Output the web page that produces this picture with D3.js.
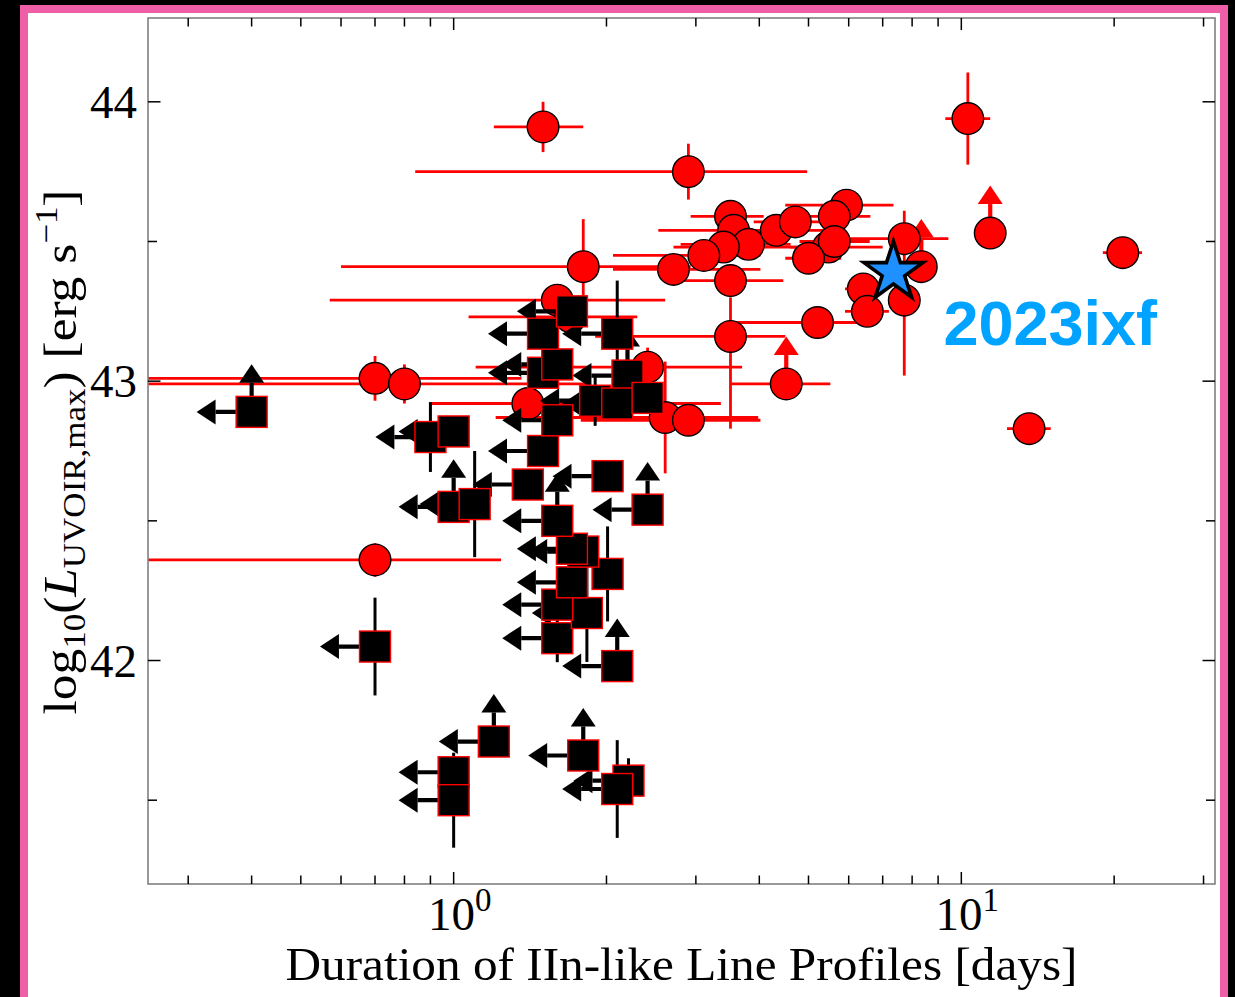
<!DOCTYPE html>
<html>
<head>
<meta charset="utf-8">
<script src="https://cdn.jsdelivr.net/npm/d3@7/dist/d3.min.js"></script>
<style>
  html, body { margin: 0; padding: 0; background: #000; }
  svg { display: block; }
</style>
</head>
<body>
<svg id="chart" width="1235" height="997"></svg>
<script>
// ---- Red circles: Type IIn-like sample (duration in days, log10 L) ----
const circX    = [1.50, 2.90, 10.3, 20.8, 13.6, 11.4, 0.70, 0.80, 0.70, 1.80, 2.71, 3.51, 3.56, 3.81, 3.40, 3.11, 3.51, 3.51, 4.32, 4.71, 5.94, 5.62, 5.47, 5.62, 5.00, 5.21, 4.52, 7.72, 8.34, 6.41, 6.53, 7.72, 2.41, 2.61, 2.90, 1.40, 1.60, 1.70];
const circY    = [43.91, 43.75, 43.94, 43.46, 42.83, 43.53, 43.01, 42.99, 42.36, 43.41, 43.40, 43.59, 43.54, 43.49, 43.48, 43.45, 43.36, 43.16, 43.54, 43.57, 43.63, 43.59, 43.48, 43.50, 43.44, 43.21, 42.99, 43.51, 43.41, 43.33, 43.25, 43.29, 43.05, 42.87, 42.86, 42.92, 43.29, 43.23];
const circXLo  = [1.20, 0.84, 9.30, 19.0, 12.3, 11.2, 0.10, 0.10, 0.10, 0.60, 2.06, 2.93, 2.53, 2.80, 2.71, 2.06, 2.71, 1.90, 3.67, 3.90, 4.50, 4.21, 4.60, 4.80, 4.50, 3.51, 3.51, 5.97, 8.00, 5.90, 5.90, 7.20, 1.105, 1.21, 1.78, 0.90, 0.57, 1.07];
const circXHi  = [1.80, 4.97, 11.4, 22.7, 15.0, 11.6, 1.36, 1.86, 1.24, 2.93, 4.02, 4.08, 4.61, 4.61, 4.82, 4.02, 4.46, 4.50, 5.52, 5.70, 7.35, 6.62, 7.00, 6.60, 5.80, 6.42, 5.52, 9.43, 8.80, 7.00, 7.20, 8.30, 3.70, 3.98, 4.02, 3.36, 2.61, 2.30];
const circYUp  = [0.09, 0.10, 0.165, 0.03, 0.04, 0.02, 0.08, 0.07, 0.06, 0.17, 0.03, 0.03, 0.04, 0.03, 0.03, 0.03, 0.03, 0.14, 0.03, 0.03, 0.03, 0.03, 0.03, 0.03, 0.03, 0.03, 0.03, 0.10, 0.03, 0.03, 0.03, 0.10, 0.07, 0.20, 0.03, 0.05, 0.05, 0.05];
const circYDn  = [0.09, 0.10, 0.165, 0.03, 0.04, 0.02, 0.08, 0.07, 0.06, 0.17, 0.03, 0.03, 0.04, 0.03, 0.03, 0.03, 0.03, 0.33, 0.03, 0.03, 0.03, 0.03, 0.03, 0.03, 0.03, 0.03, 0.03, 0.10, 0.03, 0.03, 0.03, 0.27, 0.07, 0.20, 0.03, 0.05, 0.05, 0.05];
const circLowerLim = [0,0,0,0,0,1,0,0,0,0,0,0,0,0,0,0,0,0,0,0,0,0,0,0,0,0,1,0,1,0,0,0,0,0,0,0,0,0];

// ---- Black squares: sample with upper limits on duration ----
const sqX     = [0.40, 0.90, 1.00, 1.00, 1.10, 0.70, 1.00, 1.00, 1.20, 1.80, 2.21, 2.10, 2.10, 1.60, 1.83, 1.60, 1.71, 2.01, 1.80, 1.71, 1.60, 1.40, 2.01, 2.41, 1.50, 1.60, 1.50, 1.60, 1.50, 1.71, 2.10, 2.20, 1.90, 2.10, 2.41];
const sqY     = [42.89, 42.80, 42.82, 42.55, 42.56, 42.05, 41.60, 41.50, 41.71, 41.66, 41.57, 41.54, 41.98, 42.08, 42.17, 42.20, 42.28, 42.31, 42.39, 42.40, 42.50, 42.63, 42.66, 42.54, 42.75, 42.86, 43.03, 43.06, 43.17, 43.25, 43.17, 43.02, 42.93, 42.92, 42.94];
const sqYErr  = [0, 0.125, 0, 0, 0.19, 0.175, 0, 0.17, 0, 0, 0.08, 0.175, 0, 0.086, 0.175, 0, 0, 0.17, 0, 0, 0, 0, 0.03, 0, 0, 0, 0, 0, 0, 0, 0.19, 0, 0.09, 0, 0];
const sqXUpper = [1,1,1,1,1,1,1,1,1,1,1,1,1,1,1,1,1,0,1,1,1,1,1,1,1,1,1,1,1,1,1,1,1,1,1];
const sqYLower = [1,0,0,1,0,0,0,0,1,1,0,0,1,0,0,0,0,0,0,0,1,0,0,1,0,0,0,0,0,0,0,1,0,0,0];

// ---- SN 2023ixf ----
const ixfX = [7.35];
const ixfY = [43.39];
const ixfName = ["2023ixf"];

// ---- Axes ----
const xDomain = [0.25, 31.6];
const yDomain = [41.2, 44.3];
const xMajorTicks = [1, 10];
const xMajorExp = ["0", "1"];
const xMinorTicks = [0.3, 0.4, 0.5, 0.6, 0.7, 0.8, 0.9, 2, 3, 4, 5, 6, 7, 8, 9, 20, 30];
const yMajorTicks = [42, 43, 44];
const yMinorTicks = [41.5, 42.5, 43.5];

// limit-arrow lengths in data units (dex in x, log L in y)
const xLimitDex = 0.071;
const yLimitLen = 0.104;

(function draw() {
  const svg = d3.select("#chart");
  const W = 1235, H = 997;
  const pL = 148, pR = 1215, pT = 18, pB = 884;

  // page frame
  svg.append("rect").attr("x", 0).attr("y", 0).attr("width", W).attr("height", H).attr("fill", "#000");
  svg.append("rect").attr("x", 20).attr("y", 5).attr("width", 1208).attr("height", H + 20).attr("fill", "#ee5fa7");
  svg.append("rect").attr("x", 28).attr("y", 13).attr("width", 1192).attr("height", H + 20).attr("fill", "#fff");

  const x = d3.scaleLog().domain(xDomain).range([pL, pR]);
  const y = d3.scaleLinear().domain(yDomain).range([pB, pT]);

  svg.append("defs").append("clipPath").attr("id", "plotclip")
    .append("rect").attr("x", pL).attr("y", pT).attr("width", pR - pL).attr("height", pB - pT);

  const plot = svg.append("g").attr("clip-path", "url(#plotclip)");

  function arrowLeft(g, cx, cy, color) {
    const xe = x(cx * Math.pow(10, -xLimitDex));
    const yc = y(cy);
    g.append("line").attr("x1", x(cx)).attr("x2", xe).attr("y1", yc).attr("y2", yc)
      .attr("stroke", color).attr("stroke-width", 4.2);
    g.append("path").attr("d", `M${xe},${yc - 12.5}L${xe},${yc + 12.5}L${xe - 19},${yc}Z`).attr("fill", color);
  }
  function arrowUp(g, cx, cy, color) {
    const ye = y(cy + yLimitLen);
    const xc = x(cx);
    g.append("line").attr("x1", xc).attr("x2", xc).attr("y1", y(cy)).attr("y2", ye)
      .attr("stroke", color).attr("stroke-width", 4.2);
    g.append("path").attr("d", `M${xc - 12.5},${ye}L${xc + 12.5},${ye}L${xc},${ye - 18.5}Z`).attr("fill", color);
  }

  // red circles: error bars, arrows, markers
  const gRedErr = plot.append("g");
  circX.forEach((cx, i) => {
    gRedErr.append("line").attr("x1", x(circXLo[i])).attr("x2", x(circXHi[i]))
      .attr("y1", y(circY[i])).attr("y2", y(circY[i])).attr("stroke", "#ff0000").attr("stroke-width", 2.8);
    gRedErr.append("line").attr("x1", x(cx)).attr("x2", x(cx))
      .attr("y1", y(circY[i] + circYUp[i])).attr("y2", y(circY[i] - circYDn[i]))
      .attr("stroke", "#ff0000").attr("stroke-width", 2.8);
    if (circLowerLim[i]) arrowUp(gRedErr, cx, circY[i], "#ff0000");
  });
  plot.append("g").selectAll("circle").data(circX).join("circle")
    .attr("cx", d => x(d)).attr("cy", (d, i) => y(circY[i])).attr("r", 15.8)
    .attr("fill", "#ff0000").attr("stroke", "#000").attr("stroke-width", 1.4);

  // black squares: error bars, arrows, markers
  const gBlkErr = plot.append("g");
  sqX.forEach((sx, i) => {
    if (sqYErr[i] > 0) {
      gBlkErr.append("line").attr("x1", x(sx)).attr("x2", x(sx))
        .attr("y1", y(sqY[i] + sqYErr[i])).attr("y2", y(sqY[i] - sqYErr[i]))
        .attr("stroke", "#000").attr("stroke-width", 3);
    }
    if (sqXUpper[i]) arrowLeft(gBlkErr, sx, sqY[i], "#000");
    if (sqYLower[i]) arrowUp(gBlkErr, sx, sqY[i], "#000");
  });
  const half = 15.5;
  plot.append("g").selectAll("rect").data(sqX).join("rect")
    .attr("x", d => x(d) - half).attr("y", (d, i) => y(sqY[i]) - half)
    .attr("width", half * 2).attr("height", half * 2)
    .attr("fill", "#000").attr("stroke", "#ff0000").attr("stroke-width", 1.4);

  // star for 2023ixf
  function starPath(R, r) {
    let p = "";
    for (let k = 0; k < 10; k++) {
      const a = -Math.PI / 2 + k * Math.PI / 5;
      const rr = k % 2 === 0 ? R : r;
      p += (k ? "L" : "M") + (rr * Math.cos(a)).toFixed(2) + "," + (rr * Math.sin(a)).toFixed(2);
    }
    return p + "Z";
  }
  plot.append("g").selectAll("path").data(ixfX).join("path")
    .attr("d", starPath(31, 31 * 0.382))
    .attr("transform", (d, i) => `translate(${x(d)},${y(ixfY[i])})`)
    .attr("fill", "#1e90ff").attr("stroke", "#000").attr("stroke-width", 3.6).attr("stroke-linejoin", "miter");

  svg.append("text").attr("x", x(9.22)).attr("y", y(43.128))
    .attr("font-family", "Liberation Sans, Arial, sans-serif").attr("font-weight", "bold")
    .attr("font-size", 63).attr("fill", "#00a3ff").text(ixfName[0]);

  // spines
  svg.append("rect").attr("x", pL).attr("y", pT).attr("width", pR - pL).attr("height", pB - pT)
    .attr("fill", "none").attr("stroke", "#808080").attr("stroke-width", 1.6);

  // ticks (inward on all four sides)
  const tk = svg.append("g").attr("stroke", "#000").attr("stroke-width", 1.5);
  xMajorTicks.forEach(v => {
    tk.append("line").attr("x1", x(v)).attr("x2", x(v)).attr("y1", pB).attr("y2", pB - 12);
    tk.append("line").attr("x1", x(v)).attr("x2", x(v)).attr("y1", pT).attr("y2", pT + 12);
  });
  xMinorTicks.forEach(v => {
    tk.append("line").attr("x1", x(v)).attr("x2", x(v)).attr("y1", pB).attr("y2", pB - 8.5);
    tk.append("line").attr("x1", x(v)).attr("x2", x(v)).attr("y1", pT).attr("y2", pT + 8.5);
  });
  yMajorTicks.forEach(v => {
    tk.append("line").attr("x1", pL).attr("x2", pL + 12.5).attr("y1", y(v)).attr("y2", y(v));
    tk.append("line").attr("x1", pR).attr("x2", pR - 12.5).attr("y1", y(v)).attr("y2", y(v));
  });
  yMinorTicks.forEach(v => {
    tk.append("line").attr("x1", pL).attr("x2", pL + 9).attr("y1", y(v)).attr("y2", y(v));
    tk.append("line").attr("x1", pR).attr("x2", pR - 9).attr("y1", y(v)).attr("y2", y(v));
  });

  const serif = "Liberation Serif, 'Times New Roman', serif";

  // y tick labels
  yMajorTicks.forEach(v => {
    svg.append("text").attr("x", 137).attr("y", y(v) + 16)
      .attr("text-anchor", "end").attr("font-family", serif).attr("font-size", 47)
      .attr("fill", "#000").text(v);
  });

  // x tick labels 10^n
  xMajorTicks.forEach((v, i) => {
    const t = svg.append("text").attr("x", x(v) + 6).attr("y", 930)
      .attr("text-anchor", "middle").attr("font-family", serif).attr("font-size", 47).attr("fill", "#000");
    t.append("tspan").text("10");
    t.append("tspan").attr("font-size", 33).attr("dy", -19).text(xMajorExp[i]);
  });

  // x axis title
  svg.append("text").attr("x", (pL + pR) / 2).attr("y", 980)
    .attr("text-anchor", "middle").attr("font-family", serif).attr("font-size", 47).attr("fill", "#000")
    .attr("textLength", 792).attr("lengthAdjust", "spacingAndGlyphs")
    .text("Duration of IIn-like Line Profiles [days]");

  // y axis title
  const yl = svg.append("text").attr("transform", `translate(76,${(pT + pB) / 2 + 1}) rotate(-90)`)
    .attr("text-anchor", "middle").attr("font-family", serif).attr("font-size", 47).attr("fill", "#000")
    .attr("textLength", 525).attr("lengthAdjust", "spacingAndGlyphs");
  yl.append("tspan").text("log");
  yl.append("tspan").attr("font-size", 32).attr("dy", 9).text("10");
  yl.append("tspan").attr("dy", -9).text("(");
  yl.append("tspan").attr("font-style", "italic").text("L");
  yl.append("tspan").attr("font-size", 32).attr("dy", 9).text("UVOIR,max");
  yl.append("tspan").attr("dy", -9).text(") [erg s");
  yl.append("tspan").attr("font-size", 32).attr("dy", -19).text("−1");
  yl.append("tspan").attr("dy", 19).text("]");
})();
</script>
</body>
</html>
